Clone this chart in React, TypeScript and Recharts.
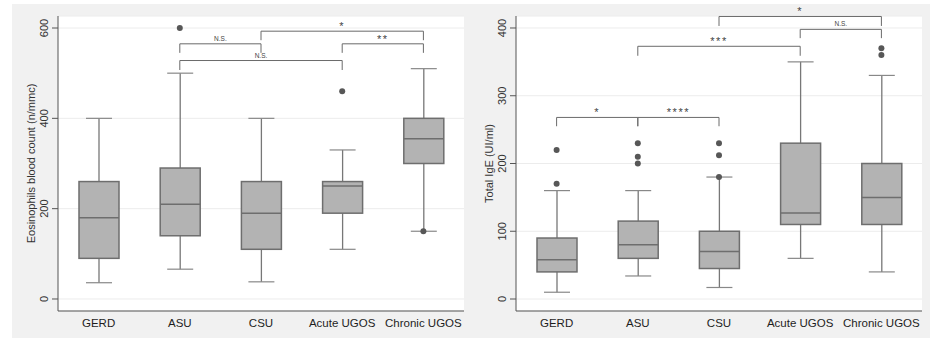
import React from "react";
import {
  CartesianGrid,
  ComposedChart,
  Bar,
  Line,
  XAxis,
  YAxis,
  ReferenceLine,
} from "recharts";

const categories = ["GERD", "ASU", "CSU", "Acute UGOS", "Chronic UGOS"];

// Eosinophils blood count (n/mmc)
const eosMin = [36, 66, 38, 110, 150];
const eosQ1 = [90, 140, 110, 190, 300];
const eosMedian = [180, 210, 190, 250, 355];
const eosQ3 = [260, 290, 260, 260, 400];
const eosMax = [400, 500, 400, 330, 510];
const eosOutliers: number[][] = [[], [600], [], [460], [150]];
const eosTicks = [0, 200, 400, 600];

// Total IgE (UI/ml)
const igeMin = [10, 34, 17, 60, 40];
const igeQ1 = [40, 60, 45, 110, 110];
const igeMedian = [58, 80, 70, 127, 150];
const igeQ3 = [90, 115, 100, 230, 200];
const igeMax = [160, 160, 180, 350, 330];
const igeOutliers: number[][] = [[170, 220], [200, 210, 230], [180, 212, 230], [], [360, 370]];
const igeTicks = [0, 100, 200, 300, 400];

interface Bracket {
  from: string;
  to: string;
  y: number;
  drop: number;
  label: string;
}

const eosBrackets: Bracket[] = [
  { from: "ASU", to: "CSU", y: 565, drop: 545, label: "N.S." },
  { from: "CSU", to: "Chronic UGOS", y: 593, drop: 573, label: "*" },
  { from: "ASU", to: "Acute UGOS", y: 528, drop: 507, label: "N.S." },
  { from: "Acute UGOS", to: "Chronic UGOS", y: 565, drop: 545, label: "**" },
];

const igeBrackets: Bracket[] = [
  { from: "GERD", to: "ASU", y: 268, drop: 255, label: "*" },
  { from: "ASU", to: "CSU", y: 268, drop: 255, label: "****" },
  { from: "ASU", to: "Acute UGOS", y: 373, drop: 359, label: "***" },
  { from: "CSU", to: "Chronic UGOS", y: 417, drop: 403, label: "*" },
  { from: "Acute UGOS", to: "Chronic UGOS", y: 398, drop: 385, label: "N.S." },
];

const FONT = "'Liberation Sans', Arial, Helvetica, sans-serif";
const AXIS = "#555555";
const BOX_FILL = "#b3b3b3";
const BOX_STROKE = "#6e6e6e";
const DOT = "#575757";

function buildRows(
  min: number[],
  q1: number[],
  med: number[],
  q3: number[],
  max: number[],
  outliers: number[][]
) {
  return categories.map((name, i) => ({
    name,
    min: min[i],
    q1: q1[i],
    median: med[i],
    q3: q3[i],
    max: max[i],
    o1: outliers[i][0],
    o2: outliers[i][1],
    o3: outliers[i][2],
  }));
}

const eosData = buildRows(eosMin, eosQ1, eosMedian, eosQ3, eosMax, eosOutliers);
const igeData = buildRows(igeMin, igeQ1, igeMedian, igeQ3, igeMax, igeOutliers);

function BoxShape(props: any) {
  const { x, y, width, height, payload } = props;
  if (x == null || y == null) return null;
  const top = Math.min(y, y + height);
  const bottom = Math.max(y, y + height);
  const lo = payload.min;
  const hi = payload.max;
  const toY = (v: number) => bottom - ((v - lo) / (hi - lo)) * (bottom - top);
  const cx = x + width / 2;
  const cap = 13;
  const yQ1 = toY(payload.q1);
  const yQ3 = toY(payload.q3);
  const yMed = toY(payload.median);
  return (
    <g>
      <line x1={cx} x2={cx} y1={top} y2={bottom} stroke="#777" strokeWidth={1.3} />
      <line x1={cx - cap} x2={cx + cap} y1={top} y2={top} stroke="#888" strokeWidth={1.2} />
      <line x1={cx - cap} x2={cx + cap} y1={bottom} y2={bottom} stroke="#888" strokeWidth={1.2} />
      <rect
        x={x}
        y={yQ3}
        width={width}
        height={yQ1 - yQ3}
        fill={BOX_FILL}
        stroke={BOX_STROKE}
        strokeWidth={1.5}
      />
      <line x1={x} x2={x + width} y1={yMed} y2={yMed} stroke={BOX_STROKE} strokeWidth={1.5} />
    </g>
  );
}

function RotatedTick(props: any) {
  const { x, y, payload } = props;
  const bx = x - 2;
  return (
    <text
      x={bx}
      y={y}
      transform={`rotate(-90 ${bx} ${y})`}
      textAnchor="middle"
      fontSize={11}
      fill="#333"
      fontFamily={FONT}
    >
      {payload.value}
    </text>
  );
}

function axisTitle(text: string, cx: number) {
  return (p: any) => {
    const vb = p.viewBox || {};
    const cy = (vb.y || 0) + (vb.height || 0) / 2;
    return (
      <text
        x={cx}
        y={cy}
        transform={`rotate(-90 ${cx} ${cy})`}
        textAnchor="middle"
        dominantBaseline="central"
        fontSize={11}
        fill="#333"
        fontFamily={FONT}
      >
        {text}
      </text>
    );
  };
}

interface PanelProps {
  data: ReturnType<typeof buildRows>;
  ticks: number[];
  domain: [number, number];
  brackets: Bracket[];
  title: string;
  titleX: number;
  width: number;
  yAxisWidth: number;
  rightMargin: number;
}

function BoxPanel({ data, ticks, domain, brackets, title, titleX, width, yAxisWidth, rightMargin }: PanelProps) {
  return (
    <ComposedChart
      width={width}
      height={339}
      data={data}
      margin={{ top: 16, right: rightMargin, bottom: 0, left: 0 }}
      style={{ fontFamily: FONT }}
    >
      <CartesianGrid vertical={false} stroke="#ececec" fill="#ffffff" />
      <XAxis
        dataKey="name"
        height={28}
        tickLine={false}
        axisLine={{ stroke: AXIS }}
        tick={{ fontSize: 11.5, fill: "#1e1e1e", fontFamily: FONT }}
        interval={0}
      />
      <YAxis
        type="number"
        domain={domain}
        ticks={ticks}
        allowDataOverflow
        width={yAxisWidth}
        axisLine={{ stroke: AXIS }}
        tickLine={{ stroke: AXIS }}
        tickSize={6}
        tick={<RotatedTick />}
        label={{ content: axisTitle(title, titleX) }}
      />
      <Bar
        dataKey={(d: any) => [d.min, d.max]}
        barSize={40}
        shape={<BoxShape />}
        isAnimationActive={false}
      />
      {["o1", "o2", "o3"].map((k) => (
        <Line
          key={k}
          dataKey={k}
          stroke="none"
          strokeWidth={0}
          dot={{ r: 3, fill: DOT, stroke: "none" }}
          activeDot={false}
          connectNulls={false}
          isAnimationActive={false}
        />
      ))}
      {brackets.map((b, i) => (
        <ReferenceLine
          key={`h${i}`}
          ifOverflow="visible"
          segment={[
            { x: b.from, y: b.y },
            { x: b.to, y: b.y },
          ]}
          stroke="#6a6a6a"
          strokeWidth={1}
          label={{
            value: b.label,
            position: "top",
            offset: b.label === "N.S." ? 3 : 1,
            fontSize: b.label === "N.S." ? 6.5 : 11,
            fill: "#444",
            letterSpacing: b.label === "N.S." ? 0 : 1.5,
          }}
        />
      ))}
      {brackets.map((b, i) => (
        <ReferenceLine
          key={`l${i}`}
          ifOverflow="visible"
          segment={[
            { x: b.from, y: b.y },
            { x: b.from, y: b.drop },
          ]}
          stroke="#6a6a6a"
          strokeWidth={1}
        />
      ))}
      {brackets.map((b, i) => (
        <ReferenceLine
          key={`r${i}`}
          ifOverflow="visible"
          segment={[
            { x: b.to, y: b.y },
            { x: b.to, y: b.drop },
          ]}
          stroke="#6a6a6a"
          strokeWidth={1}
        />
      ))}
    </ComposedChart>
  );
}

export default function App() {
  return (
    <div style={{ position: "relative", width: 930, height: 339, background: "#fff", overflow: "hidden" }}>
      <style>{"body{margin:0}"}</style>
      <div style={{ position: "absolute", left: 12, top: 4, width: 918, height: 334, background: "#f1f1f1" }} />
      <div style={{ position: "absolute", left: 0, top: 0 }}>
        <BoxPanel
          data={eosData}
          ticks={eosTicks}
          domain={[-26.6, 626.6]}
          brackets={eosBrackets}
          title="Eosinophils blood count (n/mmc)"
          titleX={31}
          width={464}
          yAxisWidth={58}
          rightMargin={0}
        />
      </div>
      <div style={{ position: "absolute", left: 464, top: 0 }}>
        <BoxPanel
          data={igeData}
          ticks={igeTicks}
          domain={[-17.7, 417.7]}
          brackets={igeBrackets}
          title="Total IgE (UI/ml)"
          titleX={25}
          width={466}
          yAxisWidth={52}
          rightMargin={8}
        />
      </div>
    </div>
  );
}
